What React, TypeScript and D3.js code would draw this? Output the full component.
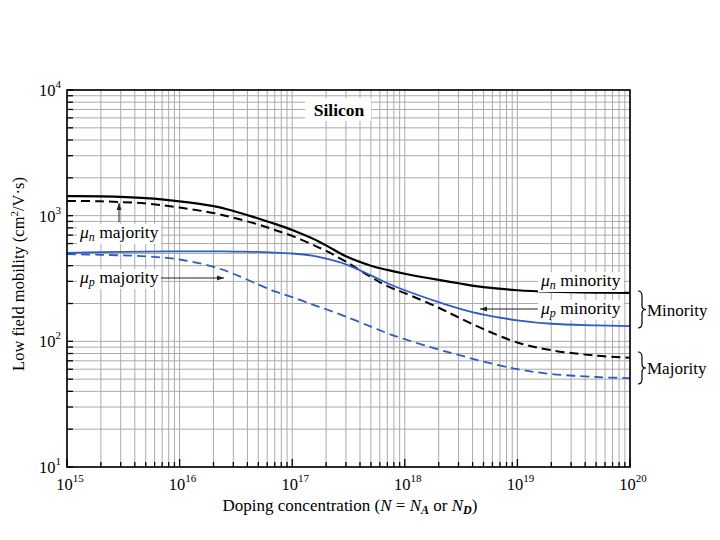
import * as d3 from 'd3'

// doping concentration samples (cm^-3)
const doping = [1e15, 2e15, 5e15, 1e16, 2e16, 3e16, 5e16, 7e16, 1e17, 1.5e17, 2e17, 3e17, 5e17, 7e17, 1e18, 2e18, 3e18, 5e18, 1e19, 2e19, 5e19, 1e20]

// mobilities (cm^2/V.s)
const muNMinority = [1430, 1425, 1380, 1300, 1190, 1090, 950, 860, 770, 660, 580, 475, 400, 370, 345, 308, 290, 270, 255, 248, 244, 243]
const muNMajority = [1310, 1300, 1250, 1160, 1050, 965, 850, 770, 690, 590, 525, 430, 325, 275, 242, 185, 155, 125, 98, 85, 77, 74]
const muPMinority = [505, 512, 518, 520, 520, 518, 515, 508, 500, 480, 455, 410, 335, 290, 255, 205, 183, 163, 147, 138, 134, 132]
const muPMajority = [495, 488, 475, 448, 392, 345, 283, 250, 225, 197, 180, 157, 131, 116, 104, 86, 78, 69, 60, 55, 52, 51]

const xDecades = [15, 16, 17, 18, 19, 20]
const yDecades = [1, 2, 3, 4]

const BLUE = '#2d5cc4'
const FONT = '"Liberation Serif", "DejaVu Serif", serif'

const width = 720
const height = 540
const margin = { top: 90, right: 90, bottom: 73, left: 67 }

export default function App() {
  const x = d3.scaleLog().domain([1e15, 1e20]).range([margin.left, width - margin.right])
  const y = d3.scaleLog().domain([10, 1e4]).range([height - margin.bottom, margin.top])
  const [x0, x1] = x.range()
  const [y0, y1] = y.range()

  const line = (vals: number[]) =>
    d3.line<number>()
      .x((_, i) => x(doping[i]))
      .y(d => y(d))
      .curve(d3.curveCatmullRom.alpha(0.5))(vals) || ''

  // minor grid values
  const xGrid: number[] = []
  for (let e = 15; e < 20; e++) for (let k = 1; k <= 9; k++) xGrid.push(k * Math.pow(10, e))
  xGrid.push(1e20)
  const yGrid: number[] = []
  for (let e = 1; e < 4; e++) for (let k = 1; k <= 9; k++) yGrid.push(k * Math.pow(10, e))
  yGrid.push(1e4)

  const label = (tx: number, ty: number, sub: string, word: string, w: number) => (
    <g>
      <rect x={tx - 3} y={ty - 14} width={w} height={20} fill="white" />
      <text x={tx} y={ty} fontSize={17.5} fontFamily={FONT}>
        <tspan fontStyle="italic">μ</tspan>
        <tspan fontStyle="italic" fontSize={12} dy={3}>{sub}</tspan>
        <tspan dy={-3}> {word}</tspan>
      </text>
    </g>
  )

  const brace = (bx: number, ya: number, yb: number) => {
    const m = (ya + yb) / 2
    return (
      <path
        d={`M${bx},${ya} Q${bx + 4},${ya} ${bx + 4},${ya + 5} L${bx + 4},${m - 4} Q${bx + 4},${m} ${bx + 8},${m} Q${bx + 4},${m} ${bx + 4},${m + 4} L${bx + 4},${yb - 5} Q${bx + 4},${yb} ${bx},${yb}`}
        fill="none" stroke="black" strokeWidth={1.2}
      />
    )
  }

  return (
    <svg width={width} height={height} style={{ position: 'absolute', left: 0, top: 0, background: 'white' }}>
      <defs>
        <marker id="arr" viewBox="0 0 10 10" refX={10} refY={5} markerWidth={7} markerHeight={7} orient="auto-start-reverse">
          <path d="M0,1.5 L10,5 L0,8.5 Z" fill="#222" />
        </marker>
      </defs>

      {/* grid */}
      <g stroke="#ababab" strokeWidth={1}>
        {xGrid.map((v, i) => <line key={'x' + i} x1={x(v)} x2={x(v)} y1={y1} y2={y0} />)}
        {yGrid.map((v, i) => <line key={'y' + i} x1={x0} x2={x1} y1={y(v)} y2={y(v)} />)}
      </g>

      {/* inner ticks */}
      <g stroke="black" strokeWidth={1.3}>
        {yGrid.map((v, i) => <line key={'ty' + i} x1={x0} x2={x0 + 6} y1={y(v)} y2={y(v)} />)}
        {xGrid.map((v, i) => {
          const major = Math.abs(Math.log10(v) - Math.round(Math.log10(v))) < 1e-9
          return <line key={'tx' + i} x1={x(v)} x2={x(v)} y1={y0} y2={y0 - (major ? 8 : 5)} />
        })}
      </g>

      {/* Silicon */}
      <rect x={305} y={98} width={66} height={23} fill="white" />
      <text x={339} y={116} textAnchor="middle" fontSize={17.5} fontWeight="bold" fontFamily={FONT}>Silicon</text>

      {/* curves */}
      <path d={line(muNMinority)} fill="none" stroke="black" strokeWidth={2.2} />
      <path d={line(muNMajority)} fill="none" stroke="black" strokeWidth={2} strokeDasharray="9,5" />
      <path d={line(muPMinority)} fill="none" stroke={BLUE} strokeWidth={1.8} />
      <path d={line(muPMajority)} fill="none" stroke={BLUE} strokeWidth={1.8} strokeDasharray="9,5" />

      {/* annotations */}
      {label(80, 238, 'n', 'majority', 84)}
      <line x1={119} x2={119} y1={222} y2={203} stroke="#222" strokeWidth={1} markerEnd="url(#arr)" />
      {label(80, 283, 'p', 'majority', 84)}
      <line x1={161} x2={224} y1={278} y2={278} stroke="#222" strokeWidth={1} markerEnd="url(#arr)" />
      {label(541, 286, 'n', 'minority', 86)}
      {label(541, 314, 'p', 'minority', 86)}
      <line x1={538} x2={480} y1={309} y2={309} stroke="#222" strokeWidth={1} markerEnd="url(#arr)" />

      {/* frame */}
      <rect x={x0} y={y1} width={x1 - x0} height={y0 - y1} fill="none" stroke="black" strokeWidth={1.6} />

      {/* braces */}
      {brace(638, 291, 328)}
      <text x={647} y={316} fontSize={17} fontFamily={FONT}>Minority</text>
      {brace(638, 352, 384)}
      <text x={647} y={374} fontSize={17} fontFamily={FONT}>Majority</text>

      {/* x tick labels */}
      {xDecades.map(e => (
        <text key={'xl' + e} x={x(Math.pow(10, e)) + 3} y={490} textAnchor="middle" fontSize={16.5} fontFamily={FONT}>
          10<tspan dy={-8} fontSize={11}>{e}</tspan>
        </text>
      ))}
      {/* y tick labels */}
      {yDecades.map(e => (
        <text key={'yl' + e} x={61} y={y(Math.pow(10, e)) + 6} textAnchor="end" fontSize={16.5} fontFamily={FONT}>
          10<tspan dy={-8} fontSize={11}>{e}</tspan>
        </text>
      ))}

      {/* axis titles */}
      <text x={350} y={511} textAnchor="middle" fontSize={17} fontFamily={FONT}>
        Doping concentration (<tspan fontStyle="italic">N</tspan> = <tspan fontStyle="italic">N</tspan>
        <tspan dy={3} fontSize={12} fontStyle="italic" fontWeight="bold">A</tspan>
        <tspan dy={-3}> or </tspan><tspan fontStyle="italic">N</tspan>
        <tspan dy={3} fontSize={12} fontStyle="italic" fontWeight="bold">D</tspan>
        <tspan dy={-3}>)</tspan>
      </text>
      <text transform="translate(24,274) rotate(-90)" textAnchor="middle" fontSize={16.5} fontFamily={FONT}>
        Low field mobility (cm<tspan dy={-6} fontSize={11}>2</tspan><tspan dy={6}>/V·s)</tspan>
      </text>
    </svg>
  )
}
